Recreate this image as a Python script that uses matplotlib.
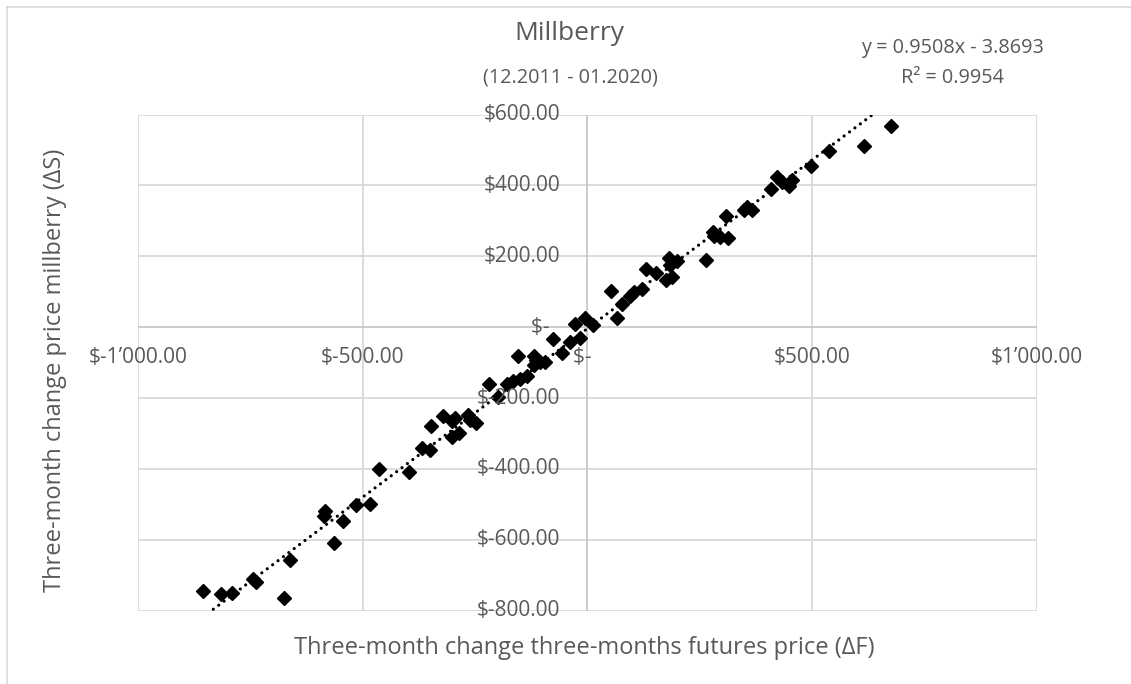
import matplotlib
matplotlib.use("Agg")
import matplotlib.pyplot as plt
import matplotlib.transforms as mtransforms
from matplotlib.lines import Line2D
import numpy as np

plt.rcParams['font.family'] = ['Open Sans', 'DejaVu Sans']

# three-month changes, futures price (dF) vs. millberry price (dS)
dF = [-857, -816, -791, -744, -737, -675, -663, -586, -584, -565,
      -544, -515, -483, -465, -397, -369, -350, -348, -321, -302,
      -295, -302, -287, -265, -261, -248, -220, -198, -180, -165,
      -150, -135, -154, -120, -114, -105, -94, -120, -76, -57,
      -39, -16, -27, -5, 13, 52, 67, 77, 94, 103,
      121, 131, 153, 175, 188, 181, 183, 199, 265, 279,
      281, 296, 313, 308, 348, 355, 366, 409, 423, 433,
      450, 455, 498, 537, 615, 675]
dS = [-743, -752, -750, -710, -718, -764, -656, -534, -518, -609,
      -546, -503, -498, -401, -409, -341, -346, -278, -250, -266,
      -257, -309, -299, -247, -261, -269, -160, -196, -160, -153,
      -147, -139, -81, -81, -92, -97, -97, -106, -34, -72,
      -41, -31, 9, 25, 6, 103, 27, 66, 88, 100,
      107, 164, 152, 133, 143, 195, 176, 187, 190, 270,
      256, 254, 251, 315, 331, 339, 331, 389, 425, 411,
      399, 416, 456, 498, 512, 569]

x_ticks = [-1000, -500, 0, 500, 1000]
y_ticks = [-800, -600, -400, -200, 0, 200, 400, 600]

slope, intercept = 0.9508, -3.8693

grey_text = '#595959'
grid_col = '#d9d9d9'


def money(v):
    if v == 0:
        return '$-  '
    sign = '-' if v < 0 else ''
    s = f"{abs(v):,.2f}".replace(',', '\u2019')
    return f"${sign}{s}"


fig = plt.figure(figsize=(11.31, 6.84), dpi=100)
ax = fig.add_axes([138.3 / 1131, 1 - 610.7 / 684, (1036.5 - 138.3) / 1131, (610.7 - 114.6) / 684])

ax.set_xlim(-1000, 1000)
ax.set_ylim(-800, 600)
for s in ax.spines.values():
    s.set_visible(False)
ax.set_xticks([])
ax.set_yticks([])

# gridlines
for xv in x_ticks:
    if xv != 0:
        ax.axvline(xv, color=grid_col, lw=1.3, zorder=0)
for yv in y_ticks:
    if yv != 0:
        ax.axhline(yv, color=grid_col, lw=1.3, zorder=0)
ax.axvline(0, color='#c8c8c8', lw=1.3, zorder=0)
ax.axhline(0, color='#c8c8c8', lw=1.3, zorder=0)

# scatter
ax.plot(dF, dS, linestyle='none', marker='D', ms=7, color='black', zorder=3)

# trendline over data range
xs = np.array([min(dF), max(dF)])
ax.plot(xs, slope * xs + intercept, color='black', lw=2.3,
        linestyle=(0, (0.01, 2.1)), dash_capstyle='round', zorder=4, clip_on=True)

# tick labels at the crossing axes
tr_x = mtransforms.offset_copy(ax.transData, fig=fig, x=0, y=-30 * 0.72, units='points')
for xv in x_ticks:
    ax.text(xv, 0, money(xv), transform=tr_x, ha='center', va='center',
            fontsize=15, color=grey_text, zorder=5)
tr_y = mtransforms.offset_copy(ax.transData, fig=fig, x=-27 * 0.72, y=0, units='points')
for yv in y_ticks:
    ax.text(0, yv, money(yv), transform=tr_y, ha='right', va='center',
            fontsize=15, color=grey_text, zorder=5)

# titles
fig.text(569 / 1131, 1 - 34 / 684, 'Millberry', ha='center', va='center',
         fontsize=19, color=grey_text)
fig.text(570 / 1131, 1 - 78 / 684, '(12.2011 - 01.2020)', ha='center', va='center',
         fontsize=14.3, color=grey_text)
fig.text(952 / 1131, 1 - 48 / 684, 'y = 0.9508x - 3.8693', ha='center', va='center',
         fontsize=14.3, color=grey_text)
fig.text(952 / 1131, 1 - 78 / 684, 'R\u00b2 = 0.9954', ha='center', va='center',
         fontsize=14.3, color=grey_text)
fig.text(584 / 1131, 1 - 648 / 684, 'Three-month change three-months futures price (\u0394F)',
         ha='center', va='center', fontsize=17, color=grey_text)
fig.text(55 / 1131, 1 - 370 / 684, 'Three-month change price millberry (\u0394S)',
         ha='center', va='center', rotation=90, fontsize=17, color=grey_text)

# chart area frame (partly cropped)
fig.add_artist(Line2D([7 / 1131, 7 / 1131], [0, 1 - 7 / 684], transform=fig.transFigure,
                      color=grid_col, lw=1.2))
fig.add_artist(Line2D([7 / 1131, 1], [1 - 7 / 684, 1 - 7 / 684], transform=fig.transFigure,
                      color=grid_col, lw=1.2))

fig.savefig('out.png', dpi=100)
